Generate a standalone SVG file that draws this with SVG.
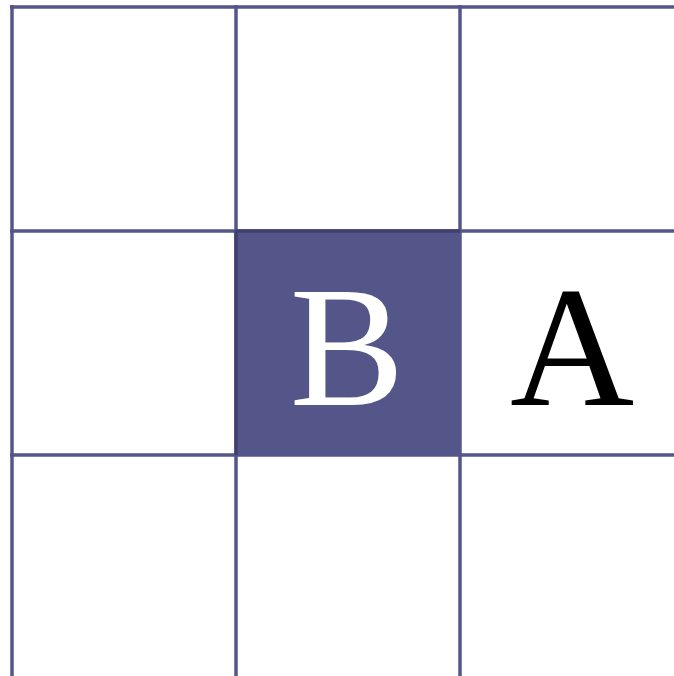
<svg xmlns="http://www.w3.org/2000/svg" width="674" height="676" viewBox="0 0 674 676">
<style>
.grid line{stroke:#545689;stroke-width:3.5}
.lbl{font-family:"Liberation Serif",serif;font-size:172px;text-anchor:middle}
</style>
<rect x="0" y="0" width="674" height="676" fill="#fff"/>
<g id="cell-B">
<rect x="236" y="231" width="224" height="224" fill="#545689"/>
</g>
<g id="grid" class="grid">
<line x1="12" y1="5" x2="12" y2="676"/>
<line x1="236" y1="5" x2="236" y2="676"/>
<line x1="460" y1="5" x2="460" y2="676"/>
<line x1="10" y1="7" x2="674" y2="7"/>
<line x1="10" y1="231" x2="674" y2="231"/>
<line x1="10" y1="455" x2="674" y2="455"/>
</g>
<g id="cell-B-edge">
<line x1="236" y1="231" x2="460" y2="231" stroke="#3f4070" stroke-width="3.5"/>
<line x1="236" y1="231" x2="236" y2="455" stroke="#3f4070" stroke-width="3.5"/>
</g>
<g id="label-B"><text class="lbl" x="347" y="405" fill="#fff">B</text></g>
<g id="label-A"><text class="lbl" x="572" y="405" fill="#000">A</text></g>
</svg>
